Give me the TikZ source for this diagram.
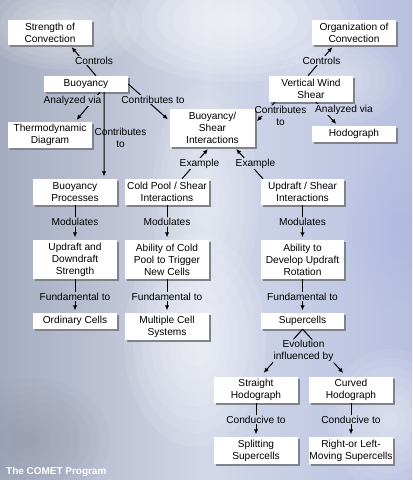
\documentclass[tikz,border=0pt]{standalone}
\usepackage{fontspec}
\setmainfont{Liberation Sans}
\usetikzlibrary{arrows.meta,shadows}

\definecolor{bgL}{RGB}{166,172,192}
\definecolor{bgM}{RGB}{210,216,232}
\definecolor{bgR}{RGB}{184,192,224}
\definecolor{shad}{RGB}{128,130,140}

\tikzset{
  box/.style={fill=white, minimum width=84bp, inner sep=0pt, align=center,
    font=\fontsize{10.2}{12}\selectfont, text=black,
    drop shadow={shadow xshift=2bp, shadow yshift=-2bp, fill=shad, opacity=1}},
  lab/.style={inner sep=0.6bp, align=center, font=\fontsize{10.2}{12}\selectfont, text=black},
  con/.style={draw=black, line width=1bp},
  arr/.style={con, -{Latex[length=5bp,width=4.5bp]}, shorten >=2.5bp},
}

% connector broken by a label: #2 start, #3 end, #4 region to leave out
\newcommand\brkr[4][arr]{%
  \begin{scope}[even odd rule]
    \clip (-20,-20) rectangle (440,500) #4;
    \draw[#1] #2 -- #3;
  \end{scope}}
\newcommand\brk[4][arr]{\brkr[#1]{#2}{#3}{(#4.north west) rectangle (#4.south east)}}
\newcommand\blob[6]{\foreach \k in {1,...,8}{\fill[#5,opacity=#6] (#1,#2) ellipse [x radius={#3*(1-\k/9)}, y radius={#4*(1-\k/9)}];}}

\begin{document}
\begin{tikzpicture}[x=1bp,y=-1bp]
\useasboundingbox (0,0) rectangle (412,480);
% background
\shade[left color=bgL, right color=bgR, middle color=bgM] (0,0) rectangle (412,480);
\begin{scope}
\clip (0,0) rectangle (412,480);
\blob{235}{20}{140}{70}{white}{0.12}
\blob{60}{25}{90}{50}{white}{0.08}
\blob{195}{340}{80}{120}{white}{0.10}
\blob{205}{200}{60}{130}{white}{0.07}
\blob{390}{420}{70}{80}{white}{0.08}
\blob{340}{80}{70}{50}{white}{0.06}
\blob{30}{440}{90}{70}{bgL!80!black}{0.05}
\blob{400}{230}{60}{90}{bgR!90!blue}{0.04}
\end{scope}

% boxes
\node[box, minimum height=25bp] (soc) at (50,32.5) {Strength of\\Convection};
\node[box, minimum height=16bp] (buoy) at (86,84) {Buoyancy};
\node[box, minimum height=26bp] (thermo) at (50,135) {Thermodynamic\\Diagram};
\node[box, minimum width=85bp, minimum height=38bp] (bsi) at (212.5,128) {Buoyancy/\\Shear\\Interactions};
\node[box, minimum height=25bp] (org) at (354,32.5) {Organization of\\Convection};
\node[box, minimum height=26bp] (vws) at (311,89) {Vertical Wind\\Shear};
\node[box, minimum height=16bp] (hodo) at (354,134) {Hodograph};
\node[box, minimum height=26bp] (bp) at (75,192) {Buoyancy\\Processes};
\node[box, minimum height=26bp] (cp) at (167,192) {Cold Pool / Shear\\Interactions};
\node[box, minimum height=39bp] (ud) at (75,259.5) {Updraft and\\Downdraft\\Strength};
\node[box, minimum height=39bp] (acp) at (167,259.5) {Ability of Cold\\Pool to Trigger\\New Cells};
\node[box, minimum height=16bp] (oc) at (75,321) {Ordinary Cells};
\node[box, minimum height=27bp] (mcs) at (167,326.5) {Multiple Cell\\Systems};
\node[box, minimum width=83bp, minimum height=26bp] (us) at (302.5,192) {Updraft / Shear\\Interactions};
\node[box, minimum width=83bp, minimum height=39bp] (adr) at (302.5,259.5) {Ability to\\Develop Updraft\\Rotation};
\node[box, minimum width=83bp, minimum height=16bp] (sc) at (302.5,321) {Supercells};
\node[box, minimum height=26bp] (sh) at (256,390) {Straight\\Hodograph};
\node[box, minimum height=26bp] (ch) at (351,390) {Curved\\Hodograph};
\node[box, minimum height=27bp] (ss) at (256,450.5) {Splitting\\Supercells};
\node[box, minimum height=27bp] (rl) at (351,450.5) {Right-or Left-\\Moving Supercells};

% labels
\node[lab] (l1) at (94,60.5) {Controls};
\node[lab] (l2) at (72.5,100.5) {Analyzed via};
\node[lab] (l3) at (120.5,138) {Contributes\\to};
\node[lab] (l4) at (153,99.5) {Contributes to};
\node[lab] (l5) at (321.5,60.5) {Controls};
\node[lab] (l6) at (280.5,116) {Contributes\\to};
\node[lab] (l10) at (344,109.5) {Analyzed via};
\node[lab] (l7) at (199.5,163.5) {Example};
\node[lab] (l8) at (255.5,163.5) {Example};
\node[lab] (m1) at (75,222) {Modulates};
\node[lab] (m2) at (167,222) {Modulates};
\node[lab] (m3) at (302.5,222) {Modulates};
\node[lab] (f1) at (75,296.5) {Fundamental to};
\node[lab] (f2) at (167,296.5) {Fundamental to};
\node[lab] (f3) at (302.5,296.5) {Fundamental to};
\node[lab] (l9) at (303.5,351) {Evolution\\influenced by};
\node[lab] (c1) at (256,419.5) {Conducive to};
\node[lab] (c2) at (351,419.5) {Conducive to};
\node[anchor=base west, inner sep=0pt, text=white, font=\bfseries\fontsize{10}{12}\selectfont] (comet) at (6,474) {The COMET Program};

% connectors
\brk{([xshift=10bp]buoy.north)}{([xshift=20bp]soc.south)}{l1}
\brk{([xshift=14bp]buoy.south)}{([xshift=25bp]thermo.north)}{l2}
\draw[arr] ([xshift=18bp]buoy.south) -- ([xshift=29bp]bp.north);
\brk{(buoy.east)}{([yshift=7bp]bsi.west)}{l4}
\brk{([xshift=-3bp]vws.north)}{([xshift=-20bp]org.south)}{l5}
\brkr{([xshift=-36bp]vws.south)}{([yshift=5bp]bsi.east)}{(l6.north west) rectangle (l6.east)}
\brk{([xshift=5bp]vws.south)}{([xshift=-16bp]hodo.north)}{l10}
\brk{([xshift=15bp]cp.north)}{([xshift=-3bp]bsi.south)}{l7}
\brk{([xshift=-39.5bp]us.north)}{([xshift=22bp]bsi.south)}{l8}
\brk{(bp.south)}{(ud.north)}{m1}
\brk{(cp.south)}{(acp.north)}{m2}
\brk{(us.south)}{(adr.north)}{m3}
\brk{(ud.south)}{(oc.north)}{f1}
\brk{(acp.south)}{(mcs.north)}{f2}
\brk{(adr.south)}{(sc.north)}{f3}
\brk{(sc.south)}{([xshift=6bp,yshift=2bp]sh.north)}{l9}
\brk{(sc.south)}{([xshift=-6bp,yshift=2bp]ch.north)}{l9}
\brk{(sh.south)}{(ss.north)}{c1}
\brk{(ch.south)}{(rl.north)}{c2}
\end{tikzpicture}
\end{document}
